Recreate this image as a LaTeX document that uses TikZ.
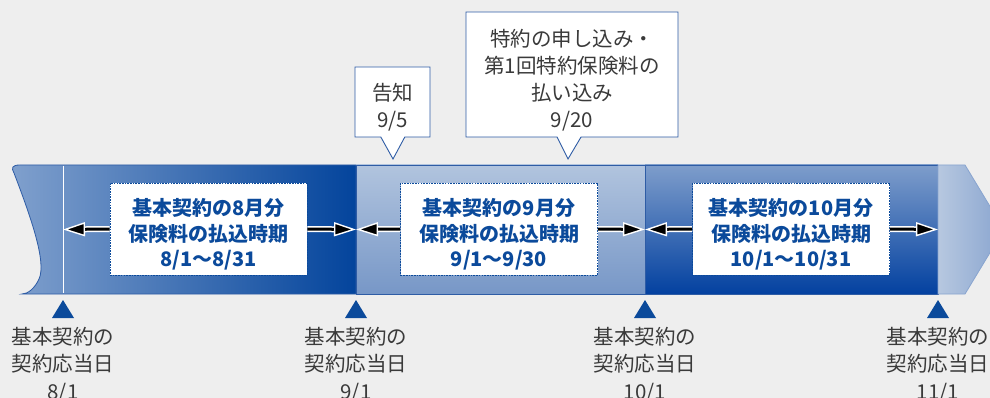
\documentclass[tikz,border=0pt]{standalone}
\usepackage{fontspec}
\setmainfont{Noto Sans CJK JP}
\usetikzlibrary{arrows.meta,shapes.callouts}
\definecolor{bggray}{HTML}{EEEEEE}
\definecolor{bandline}{HTML}{2E5CA5}
\definecolor{textblue}{HTML}{0B4A9B}
\definecolor{textgray}{HTML}{3A3A3A}
\definecolor{segalight}{HTML}{80A0CD}
\definecolor{segadark}{HTML}{03449C}
\definecolor{segblight}{HTML}{B1C4DE}
\definecolor{segbdark}{HTML}{7797C7}
\definecolor{segclight}{HTML}{7E9DCB}
\definecolor{segcdark}{HTML}{0341A0}
\definecolor{segdlight}{HTML}{B7C8E0}
\definecolor{segddark}{HTML}{88A4CF}
\def\ttop{165}
\def\tbot{294}
\def\lift{\rule{0pt}{28.5pt}}

\begin{document}
\begin{tikzpicture}[x=1pt,y=-1pt,
  paybox/.style={draw=textblue, dash pattern=on 1.6pt off 1.1pt, line width=0.9pt, fill=white,
    minimum width=197pt, minimum height=92pt, inner sep=0pt, align=center,
    font=\fontsize{20}{25.5}\selectfont\bfseries, text=textblue},
  note/.style={rectangle callout, draw=bandline, line width=0.9pt, fill=white,
    callout pointer width=24pt, inner sep=0pt, align=center,
    font=\fontsize{20.5}{27}\selectfont, text=textgray},
  payarrow/.style={-{Triangle[length=22pt,width=14pt,color=white,fill=black,line width=1.4pt]},
    line width=3pt, draw=black,
    preaction={draw=white, line width=6pt, arrows=-, shorten >=12pt}},
  datelab/.style={align=center, inner sep=0pt, anchor=north,
    font=\fontsize{20.5}{27.5}\selectfont, text=textgray}]

\fill[bggray] (0,0) rectangle (990,398);
\useasboundingbox (0,0) rectangle (990,398);
\clip (0,0) rectangle (990,398);

% band
\draw[left color=segalight, right color=segadark, draw=bandline, line width=0.8pt]
  (356,\ttop) -- (20,\ttop) .. controls (12,\ttop) and (11,168) .. (14,173)
  .. controls (30,215) and (47,262) .. (39,279) .. controls (35,288) and (28,\tbot) .. (22,\tbot)
  -- (356,\tbot) -- cycle;
\draw[white, line width=1pt] (63,\ttop+0.6) -- (63,\tbot-0.6);
\draw[top color=segblight, bottom color=segbdark, draw=bandline, line width=0.8pt]
  (356,\ttop) rectangle (645,\tbot);
\draw[top color=segclight, bottom color=segcdark, draw=bandline, line width=0.8pt]
  (645,\ttop) rectangle (938,\tbot);
\draw[left color=segdlight, right color=segddark, draw=segddark, line width=0.8pt]
  (938,\ttop) -- (965,\ttop) -- (1004,229.5) -- (965,\tbot) -- (938,\tbot) -- cycle;

\coordinate (d8) at (63,229.5);
\coordinate (d9) at (356,229.5);
\coordinate (d10) at (645,229.5);
\coordinate (d11) at (938,229.5);

% payment periods
\node[paybox] (p8) at (208.5,229) {\lift 基本契約の8月分\\保険料の払込時期\\8/1〜8/31};
\node[paybox] (p9) at (499,229) {\lift 基本契約の9月分\\保険料の払込時期\\9/1〜9/30};
\node[paybox] (p10) at (791,229) {\lift 基本契約の10月分\\保険料の払込時期\\10/1〜10/31};

\draw[payarrow] (p8.west) -- (d8);
\draw[payarrow] (p8.east) -- (d9);
\draw[payarrow] (p9.west) -- (d9);
\draw[payarrow] (p9.east) -- (d10);
\draw[payarrow] (p10.west) -- (d10);
\draw[payarrow] (p10.east) -- (d11);

% callouts
\node[note, minimum width=75pt, minimum height=70pt, callout absolute pointer={(393,159)}]
  (notice) at (392.5,102) {\lift 告知\\9/5};
\node[note, minimum width=212pt, minimum height=125pt, callout absolute pointer={(568,159)}]
  (rider) at (572,74.5) {\lift 特約の申し込み・\\第1回特約保険料の\\払い込み\\9/20};

% anniversary dates
\foreach \x/\n/\d in {63/a8/{8/1}, 356/a9/{9/1}, 645/a10/{10/1}, 938/a11/{11/1}}{
  \fill[textblue] (\x-11,318) -- (\x,300) -- (\x+11,318) -- cycle;
  \node[datelab] (\n) at (\x,327) {基本契約の\\契約応当日\\\d};
}
\end{tikzpicture}
\end{document}
